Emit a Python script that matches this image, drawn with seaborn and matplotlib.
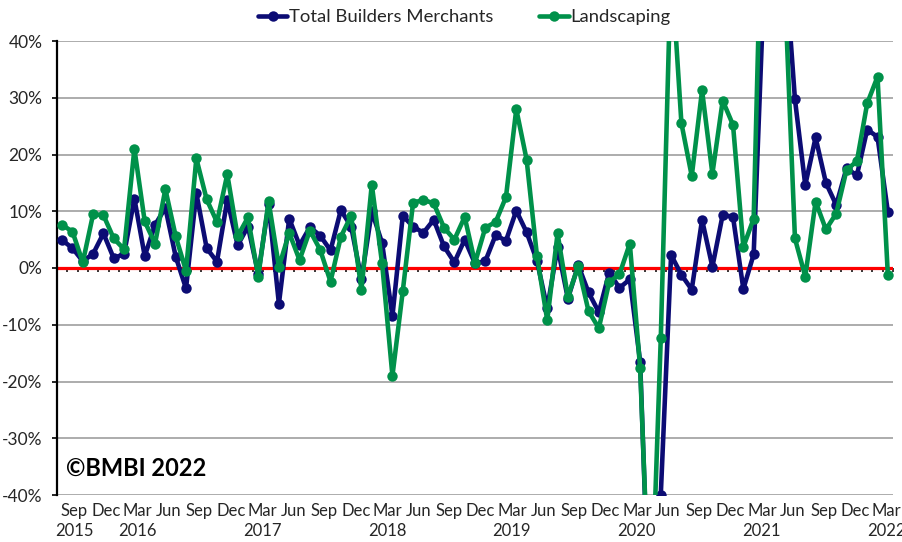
import numpy as np
import pandas as pd
import matplotlib
matplotlib.use("Agg")
import matplotlib.pyplot as plt
from matplotlib.lines import Line2D
import seaborn as sns

# Year-on-year sales change (%), monthly from Jul 2015 to Mar 2022
total_builders = [
    4.9, 3.5, 1.2, 2.5, 6.1, 1.7, 2.5, 12.2, 2.1, 7.6,
    10.6, 2.0, -3.6, 13.2, 3.5, 1.1, 12.0, 4.0, 7.3, -1.0,
    11.2, -6.3, 8.7, 4.0, 7.2, 5.7, 3.1, 10.2, 7.3, -2.0,
    10.0, 4.4, -8.5, 9.2, 7.3, 6.2, 8.5, 3.8, 1.0, 5.0,
    0.8, 1.2, 5.8, 4.8, 10.1, 6.3, 1.3, -7.1, 3.7, -5.4,
    0.5, -4.3, -7.8, -0.8, -3.5, -2.0, -16.5, -68.0, -40.0, 2.3,
    -1.2, -3.8, 8.5, 0.2, 9.4, 9.0, -3.7, 2.4, 50.0, 230.0,
    55.0, 29.7, 14.6, 23.0, 15.0, 11.1, 17.6, 16.3, 24.4, 23.1,
    9.9,
]
landscaping = [
    7.6, 6.4, 1.0, 9.5, 9.3, 5.2, 3.3, 21.0, 8.2, 4.3,
    13.9, 5.6, -0.5, 19.3, 12.1, 8.1, 16.5, 5.6, 8.9, -1.5,
    11.8, 0.2, 6.2, 1.4, 6.6, 3.2, -2.4, 5.5, 9.2, -3.8,
    14.7, 0.8, -19.0, -4.1, 11.5, 12.0, 11.4, 7.1, 5.0, 9.0,
    0.9, 7.1, 8.1, 12.5, 28.0, 19.1, 2.2, -9.2, 6.1, -5.1,
    0.3, -7.6, -10.6, -2.5, -1.1, 4.3, -17.6, -65.0, -12.4, 54.0,
    25.5, 16.2, 31.3, 16.6, 29.5, 25.2, 3.7, 8.7, 80.0, 300.0,
    50.0, 5.2, -1.5, 11.7, 6.8, 9.6, 17.3, 18.8, 29.0, 33.7,
    -1.2,
]
series_names = ["Total Builders Merchants", "Landscaping"]
tick_labels = [
    "Sep\n2015", "Dec", "Mar\n2016", "Jun", "Sep", "Dec",
    "Mar\n2017", "Jun", "Sep", "Dec",
    "Mar\n2018", "Jun", "Sep", "Dec",
    "Mar\n2019", "Jun", "Sep", "Dec",
    "Mar\n2020", "Jun", "Sep", "Dec",
    "Mar\n2021", "Jun", "Sep", "Dec",
    "Mar\n2022",
]
y_ticks = [-40, -30, -20, -10, 0, 10, 20, 30, 40]

NAVY = "#0C0C74"
GREEN = "#00914A"

sns.set_theme(style="white")
plt.rcParams["font.family"] = ["Lato", "DejaVu Sans"]
plt.rcParams["text.color"] = "#262626"

W, H = 902, 542
fig = plt.figure(figsize=(W / 100, H / 100), dpi=100)
left_px, right_px, top_px, bottom_px = 57, 893, 41, 495
ax = fig.add_axes([left_px / W, 1 - bottom_px / H,
                   (right_px - left_px) / W, (bottom_px - top_px) / H])

n = len(total_builders)
df = pd.DataFrame({
    "step": np.arange(n),
    series_names[0]: total_builders,
    series_names[1]: landscaping,
}).melt(id_vars="step", var_name="series", value_name="value")

sns.lineplot(
    data=df, x="step", y="value", hue="series", hue_order=series_names,
    palette=[NAVY, GREEN], marker="o", markersize=7.5, markeredgewidth=0,
    linewidth=3.3, estimator=None, legend=False, ax=ax, zorder=3,
)

ax.set_xlim(-0.5, n - 0.5)
ax.set_ylim(-40, 40)
ax.set_xlabel("")
ax.set_ylabel("")

# y axis
ax.set_yticks(y_ticks)
ax.set_yticklabels([f"{v}%" for v in y_ticks])
ax.yaxis.grid(True, color="#A6A6A6", linewidth=1.3)
ax.xaxis.grid(False)
ax.set_axisbelow(True)
ax.tick_params(axis="y", which="major", direction="out", length=3.5, width=1.2,
               color="black", left=True, pad=7, labelsize=12.5, labelcolor="#262626")

# x axis labels along the bottom edge
label_pos = np.linspace(1.2, 79.9, len(tick_labels))
ax.set_xticks(label_pos)
ax.set_xticklabels(tick_labels, linespacing=1.3)
ax.tick_params(axis="x", length=0, pad=6, labelsize=12, labelcolor="#262626")

for side in ["top", "right", "bottom"]:
    ax.spines[side].set_visible(False)
ax.spines["left"].set_color("black")
ax.spines["left"].set_linewidth(1.6)

# zero line with category tick marks
ax.axhline(0, color="#FF0000", linewidth=2.3, zorder=2.5)
sec = ax.secondary_xaxis(0.5)
sec.set_xticks(np.arange(-0.5, n, 1.0))
sec.tick_params(axis="x", direction="in", length=3, width=1.1, color="black",
                labeltop=False, labelbottom=False)
for sp in sec.spines.values():
    sp.set_visible(False)

# copyright mark
ax.text(66 / W, 1 - 468 / H, "\u00a9BMBI 2022", transform=fig.transFigure,
        fontsize=17, fontweight="bold", color="black", ha="left", va="center")

# legend
handles = [
    Line2D([], [], color=NAVY, linewidth=3.3, marker="o", markersize=7.5, markeredgewidth=0),
    Line2D([], [], color=GREEN, linewidth=3.3, marker="o", markersize=7.5, markeredgewidth=0),
]
fig.legend(handles, series_names, loc="center", bbox_to_anchor=(464 / W, 1 - 17 / H),
           ncol=2, frameon=False, fontsize=13.3, handlelength=1.6, handletextpad=0.06,
           columnspacing=2.5)

fig.savefig("out.png", dpi=100)
